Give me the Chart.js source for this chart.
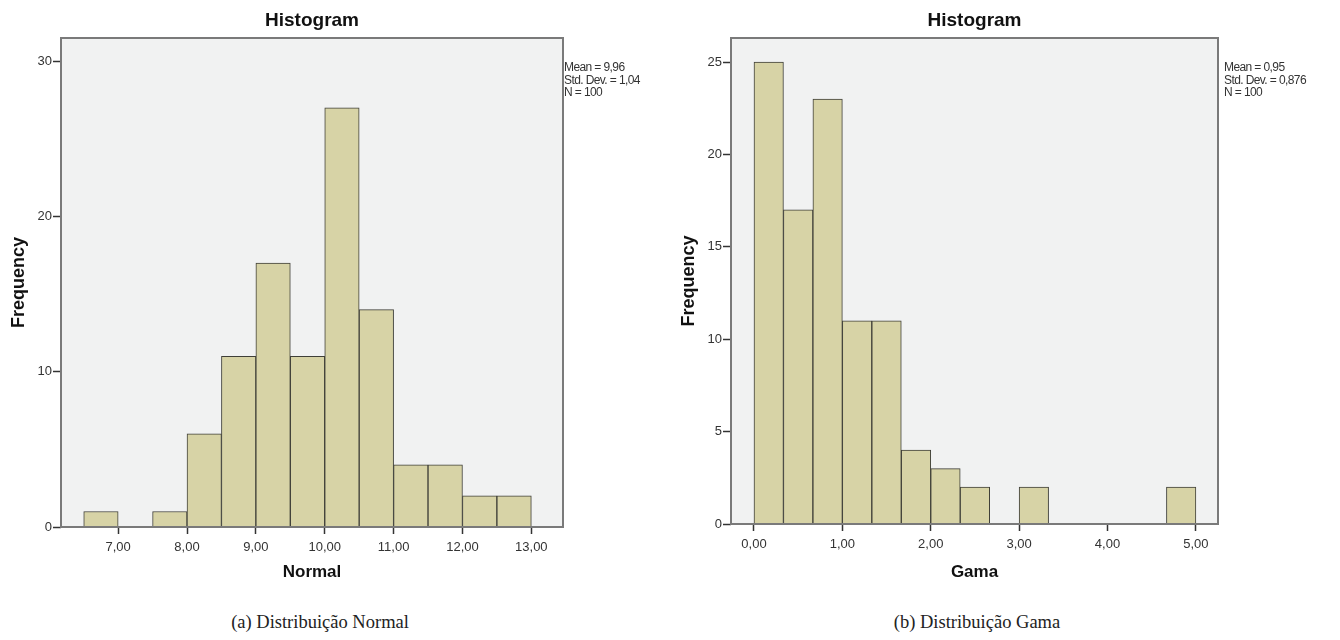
<!DOCTYPE html>
<html>
<head>
<meta charset="utf-8">
<script src="https://cdn.jsdelivr.net/npm/chart.js@4.4.1/dist/chart.umd.min.js"></script>
<style>
    body { margin: 0; background: #fff; width: 1340px; height: 640px; position: relative; overflow: hidden; }
    .box { position: absolute; top: 0; }
    .stats { position: absolute; font-family: "Liberation Sans", Arial, sans-serif; font-size: 12px; line-height: 12.5px; color: #333; letter-spacing: -0.6px; }
    .caption { position: absolute; top: 612px; font-family: "Liberation Serif", "Times New Roman", serif; font-size: 18.5px; color: #222; text-align: center; width: 400px; }
</style>
</head>
<body>
<div class="box" style="left:0"><canvas id="normalChart" width="660" height="600"></canvas></div>
<div class="box" style="left:670px"><canvas id="gamaChart" width="670" height="600"></canvas></div>
<div class="stats" style="left:564px; top:61px">Mean = 9,96<br>Std. Dev. = 1,04<br>N = 100</div>
<div class="stats" style="left:1224px; top:61px">Mean = 0,95<br>Std. Dev. = 0,876<br>N = 100</div>
<div class="caption" style="left:120px">(a) Distribuição Normal</div>
<div class="caption" style="left:777px">(b) Distribuição Gama</div>
<script>
// Normal histogram: bin starts (width 0.5) and counts
const normalBinWidth = 0.5;
const normalBinStarts = [6.5, 7.5, 8.0, 8.5, 9.0, 9.5, 10.0, 10.5, 11.0, 11.5, 12.0, 12.5];
const normalCounts = [1, 1, 6, 11, 17, 11, 27, 14, 4, 4, 2, 2];
const normalXTicks = [7, 8, 9, 10, 11, 12, 13];
const normalYTicks = [0, 10, 20, 30];

// Gama histogram: bin starts (width 1/3) and counts
const gamaBinWidth = 1 / 3;
const gamaBinStarts = [0, 1 / 3, 2 / 3, 1, 4 / 3, 5 / 3, 2, 7 / 3, 3, 14 / 3];
const gamaCounts = [25, 17, 23, 11, 11, 4, 3, 2, 2, 2];
const gamaXTicks = [0, 1, 2, 3, 4, 5];
const gamaYTicks = [0, 5, 10, 15, 20, 25];

const FONT = '"Liberation Sans", Arial, sans-serif';

// plot background + frame like SPSS, title centred over the plot
const framePlugin = {
    id: 'frame',
    afterLayout(chart) {
        const t = chart.titleBlock;
        const a = chart.chartArea;
        if (t) {
            t.left = a.left;
            t.right = a.right;
            t.width = a.right - a.left;
        }
    },
    beforeDatasetsDraw(chart) {
        const { ctx, chartArea: a } = chart;
        ctx.save();
        ctx.fillStyle = '#f1f2f2';
        ctx.fillRect(a.left, a.top, a.right - a.left, a.bottom - a.top);
        ctx.restore();
    },
    afterDatasetsDraw(chart) {
        const { ctx, chartArea: a } = chart;
        ctx.save();
        ctx.strokeStyle = '#7a7a7a';
        ctx.lineWidth = 2;
        ctx.strokeRect(a.left, a.top, a.right - a.left, a.bottom - a.top);
        ctx.restore();
    }
};

const fmt = v => v.toFixed(2).replace('.', ',');

function renderHistogram(id, binStarts, binWidth, counts, xTicks, yTicks, opts) {
    const ctx = document.getElementById(id).getContext('2d');

    new Chart(ctx, {
        type: 'bar',
        data: {
            datasets: [{
                data: binStarts.map((s, i) => ({ x: s + binWidth / 2, y: counts[i] })),
                backgroundColor: '#d7d3a6',
                borderColor: '#3f3f38',
                borderWidth: 1,
                borderSkipped: 'start',
                barPercentage: 1,
                categoryPercentage: 1
            }]
        },
        options: {
            responsive: false,
            animation: false,
            layout: { padding: { top: 0, left: 0, bottom: 0, right: opts.padRight } },
            plugins: {
                legend: { display: false },
                tooltip: { enabled: false },
                title: {
                    display: true,
                    text: 'Histogram',
                    color: '#111',
                    font: { family: FONT, size: 19, weight: 'bold' },
                    padding: { top: 9, bottom: 6.2 }
                }
            },
            scales: {
                x: {
                    type: 'linear',
                    min: opts.xMin,
                    max: opts.xMax,
                    offset: false,
                    afterBuildTicks: s => { s.ticks = xTicks.map(v => ({ value: v })); },
                    afterFit: s => { s.height = opts.xHeight; },
                    grid: { drawOnChartArea: false, offset: false, tickLength: 7, color: '#333', tickWidth: 1.5 },
                    border: { display: false },
                    ticks: {
                        color: '#333',
                        padding: 6,
                        maxRotation: 0,
                        autoSkip: false,
                        font: { family: FONT, size: 13 },
                        callback: v => fmt(v)
                    },
                    title: {
                        display: true,
                        text: opts.xTitle,
                        color: '#111',
                        font: { family: FONT, size: 17, weight: 'bold' },
                        padding: { top: 0, bottom: 17 }
                    }
                },
                y: {
                    min: 0,
                    max: opts.yMax,
                    afterBuildTicks: s => { s.ticks = yTicks.map(v => ({ value: v })); },
                    afterFit: s => { s.width = 61; },
                    grid: { drawOnChartArea: false, tickLength: 8, color: '#333', tickWidth: 1.5 },
                    border: { display: false },
                    ticks: {
                        color: '#333',
                        padding: 1,
                        font: { family: FONT, size: 13 }
                    },
                    title: {
                        display: true,
                        text: 'Frequency',
                        color: '#111',
                        font: { family: FONT, size: 18, weight: 'bold' },
                        padding: { top: 8, bottom: 0 }
                    }
                }
            }
        },
        plugins: [framePlugin]
    });
}

renderHistogram('normalChart', normalBinStarts, normalBinWidth, normalCounts, normalXTicks, normalYTicks,
    { xMin: 6.17, xMax: 13.46, yMax: 31.5, xHeight: 73, padRight: 97, xTitle: 'Normal' });

renderHistogram('gamaChart', gamaBinStarts, gamaBinWidth, gamaCounts, gamaXTicks, gamaYTicks,
    { xMin: -0.26, xMax: 5.25, yMax: 26.3, xHeight: 76, padRight: 122, xTitle: 'Gama' });
</script>
</body>
</html>
